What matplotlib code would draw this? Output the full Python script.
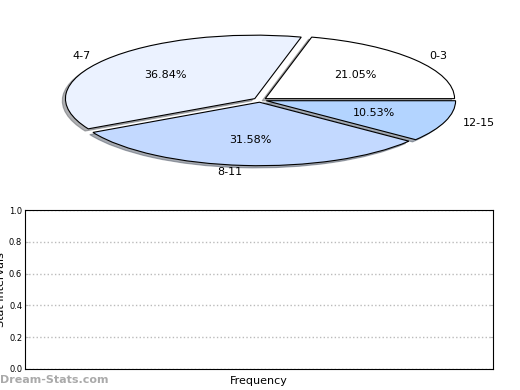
import matplotlib
matplotlib.use('Agg')
import matplotlib.pyplot as plt

# data
labels = ['0-3', '4-7', '8-11', '12-15']
counts = [4, 7, 6, 2]
colors = ['#FFFFFF', '#EBF2FF', '#C3D9FF', '#B3D4FF']
yticks = [0.0, 0.2, 0.4, 0.6, 0.8, 1.0]

fig = plt.figure(figsize=(5.2, 3.9), dpi=100)

# pie (stretched into an ellipse)
ax1 = fig.add_axes([65 / 520, (390 - 166) / 390, 390 / 520, 132 / 390])
wedges, texts, autotexts = ax1.pie(
    counts, labels=labels, colors=colors, autopct='%.2f%%',
    explode=[0.035] * len(counts),
    shadow={'ox': -0.012, 'oy': -0.025, 'shade': 0.6},
    startangle=0, counterclock=True, labeldistance=1.1, pctdistance=0.6,
    wedgeprops={'edgecolor': 'black', 'linewidth': 0.8},
    textprops={'fontsize': 8})
ax1.set_aspect('auto')
ax1.set_xlim(-1.03, 1.03)
ax1.set_ylim(-1.04, 1.04)
for t in texts + autotexts:
    t.set_clip_on(False)

# empty frequency axes
ax2 = fig.add_axes([25 / 520, 21 / 390, 468 / 520, 159 / 390])
ax2.set_ylim(0, 1)
ax2.set_yticks(yticks)
ax2.set_yticklabels(['%.1f' % v for v in yticks], fontsize=6)
ax2.set_xticks([])
ax2.tick_params(axis='y', direction='in', length=2, color='#BBBBBB',
                left=True, right=True, pad=2)
ax2.grid(axis='y', linestyle=':', color='#BBBBBB', linewidth=1)
ax2.set_xlabel('Frequency', fontsize=8, labelpad=5)
ax2.set_ylabel('Stat Intervals', fontsize=8)
ax2.yaxis.set_label_coords(-0.041, 0.5)

fig.text(0.0, 10 / 390, 'Dream-Stats.com', fontsize=8, color='#AAAAAA',
         fontweight='bold', ha='left', va='center')

fig.savefig('out.png', dpi=100)
